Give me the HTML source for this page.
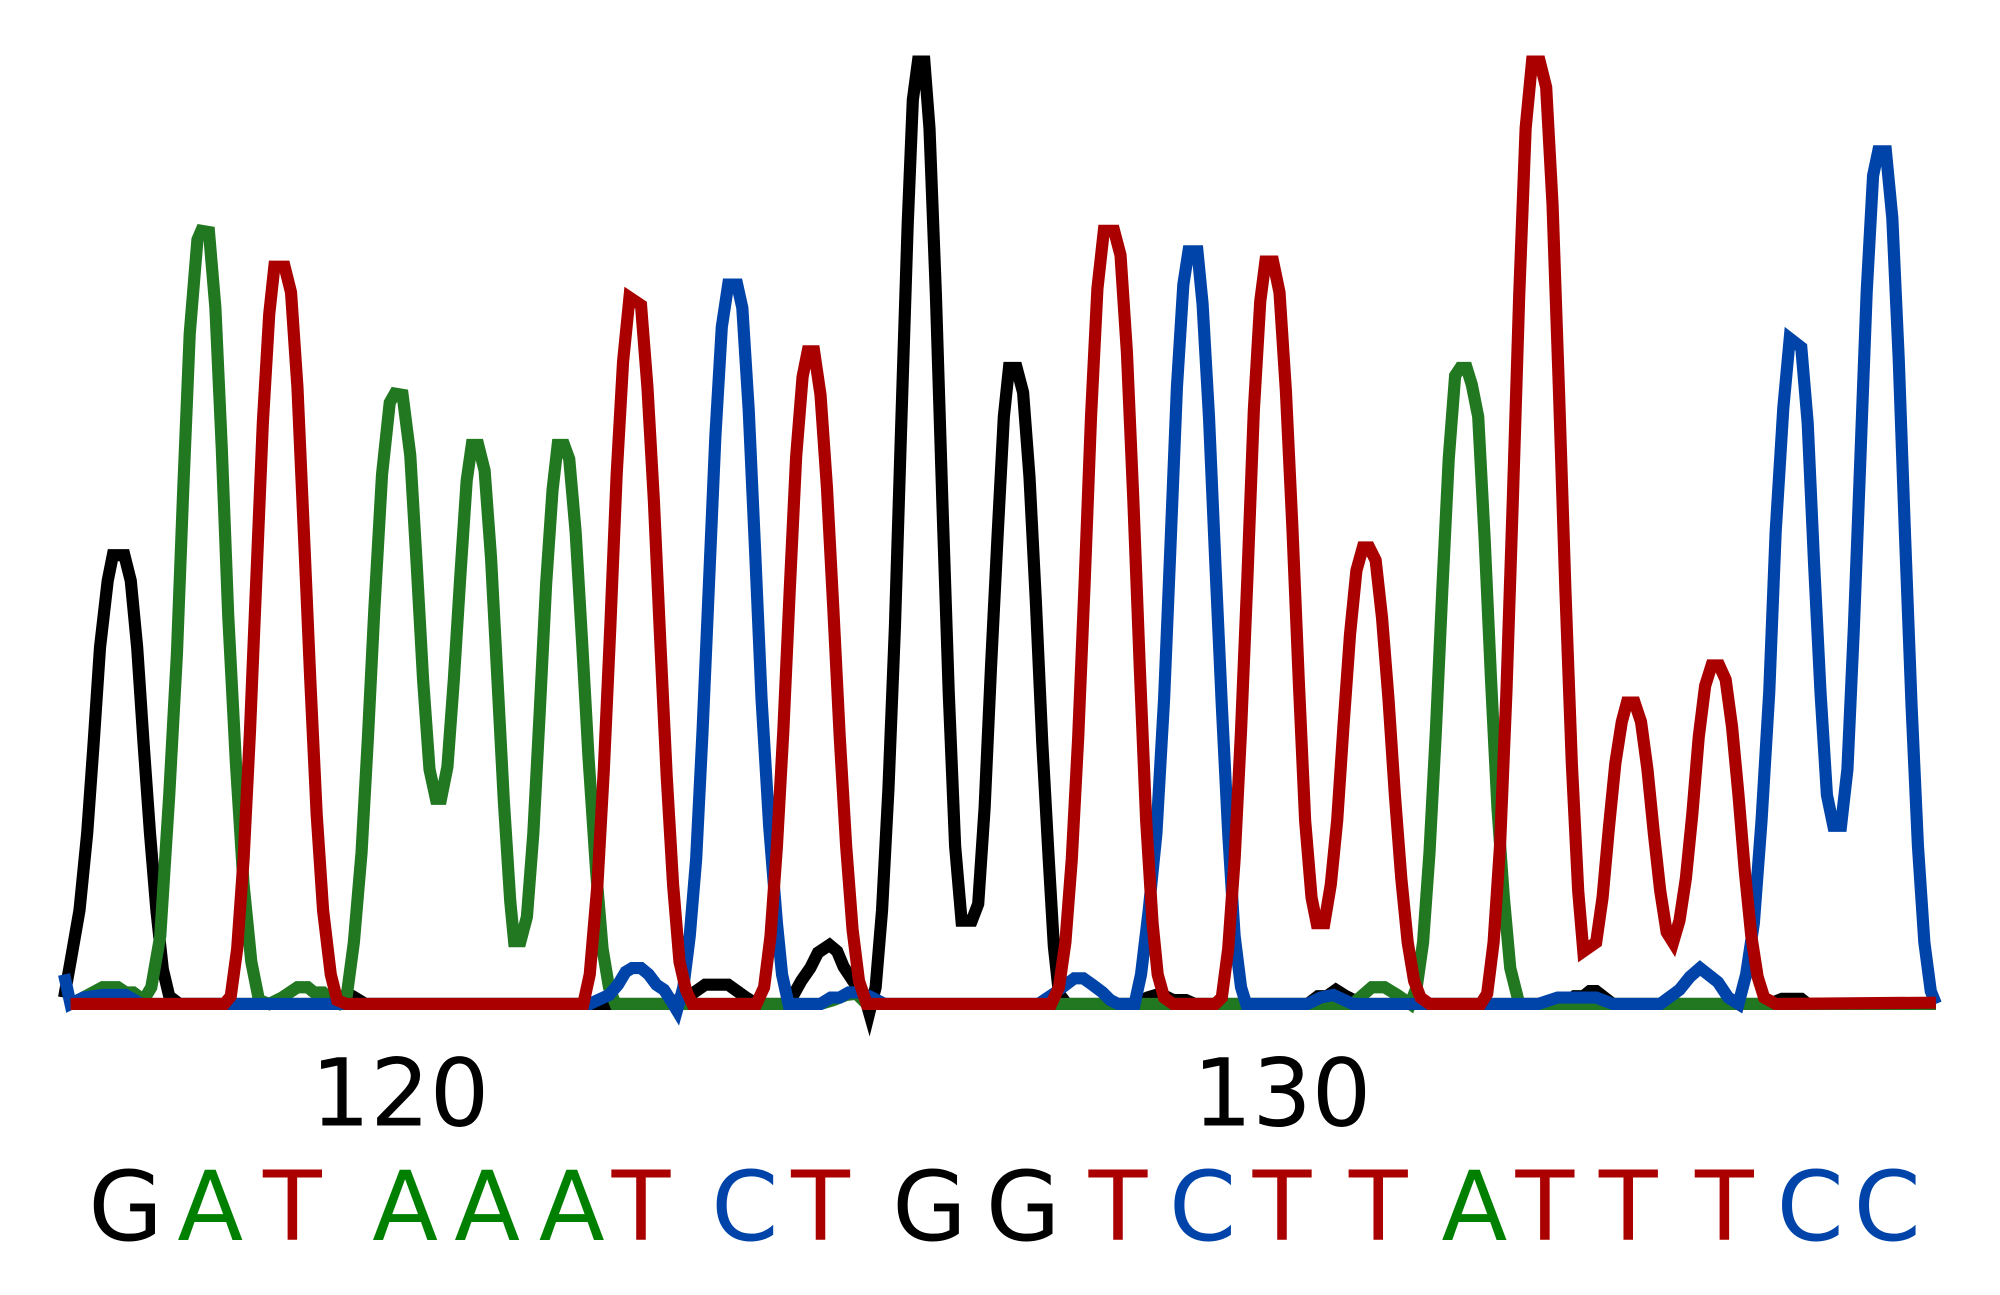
<!DOCTYPE html>
<html><head><meta charset="utf-8"><style>html,body{margin:0;padding:0;background:#fff}svg{display:block}</style></head>
<body>
<svg width="2000" height="1295" viewBox="0 0 1560 1010" preserveAspectRatio="none" xmlns="http://www.w3.org/2000/svg">
<g fill="none" stroke-width="9.5" stroke-linejoin="miter">
<polyline stroke="#000" points="50,778 55,750 62,710 68,650 73,580 78,505 84,453 88,433 97,433 102,453 107,505 112,580 117,650 122,710 127,756 132,777 140,783 245,783 255,777 275,777 285,783 520,783 528,780 540,775 550,768 568,768 582,778 590,783 615,783 625,765 632,755 638,743 647,737 653,742 658,754 666,766 676,783 678,790 683,770 688,710 693,615 698,490 703,330 708,175 712,78 716,48 721,48 725,100 730,230 735,390 740,540 745,660 750,718 758,718 763,705 768,630 773,520 778,420 783,325 787,287 793,287 798,306 803,372 808,470 813,580 818,670 822,738 826,775 832,783 885,783 895,778 905,775 915,780 925,780 932,783 1020,783 1028,777 1035,777 1042,772 1050,777 1062,783 1220,783 1228,777 1235,777 1240,773 1245,773 1258,783 1380,783 1390,779 1405,779 1410,783 1510,783"/>
<polyline stroke="#217821" points="55,783 65,778 80,770 92,770 98,774 104,774 112,780 118,770 125,730 132,620 138,510 143,380 148,260 154,187 157,180 163,181 168,240 173,350 178,480 184,595 190,690 196,750 202,780 210,783 220,778 232,770 240,770 245,774 252,774 258,780 265,783 270,780 276,735 282,665 287,575 292,475 298,370 304,314 308,307 314,308 320,355 325,440 330,530 335,600 340,623 344,623 349,598 354,530 359,450 364,375 368,347 373,347 378,367 383,435 388,530 393,625 398,703 401,734 406,734 411,715 416,650 421,555 426,455 431,382 435,347 440,347 444,358 449,415 454,500 459,590 465,680 470,740 475,770 480,783 640,783 650,780 660,776 668,775 676,783 1055,783 1070,770 1080,770 1090,776 1100,783 1105,770 1110,735 1115,665 1120,570 1125,460 1130,358 1135,293 1139,287 1144,287 1148,300 1153,325 1158,420 1163,530 1168,630 1173,700 1178,755 1185,783 1510,783"/>
<polyline stroke="#0044aa" points="50,760 55,783 65,778 80,776 98,776 110,783 460,783 475,776 482,768 488,758 493,755 500,755 506,760 512,768 518,772 525,783 528,788 533,770 538,730 543,670 548,570 553,455 558,340 563,255 568,222 575,222 579,240 584,320 589,430 594,545 600,645 606,720 610,760 615,783 640,783 648,778 655,778 662,774 670,774 678,777 690,783 810,783 822,775 830,769 838,763 845,763 852,768 860,774 866,780 872,783 885,783 890,760 896,710 902,650 908,545 913,425 918,302 923,222 927,196 934,196 938,237 943,325 948,440 953,550 958,650 963,730 968,770 972,783 1020,783 1030,778 1040,776 1055,783 1200,783 1215,778 1245,778 1258,783 1295,783 1310,772 1318,762 1326,755 1340,766 1348,778 1356,783 1362,760 1368,720 1374,640 1380,540 1385,415 1391,318 1396,264 1405,271 1410,330 1415,440 1420,540 1425,620 1430,644 1436,644 1441,600 1446,490 1451,360 1456,228 1461,137 1465,118 1471,118 1476,170 1481,280 1486,420 1491,550 1496,660 1501,735 1506,773 1510,783"/>
<polyline stroke="#aa0000" points="55,783 175,783 180,777 185,740 190,670 195,570 200,450 205,330 210,245 214,208 222,208 227,228 232,302 237,415 242,530 247,635 252,710 258,760 263,780 270,783 455,783 460,760 466,690 471,600 476,490 481,370 486,282 491,232 500,238 505,302 510,390 515,500 520,605 525,690 530,750 535,772 540,783 590,783 596,770 601,730 606,660 611,570 616,460 621,356 626,294 630,274 635,274 640,308 645,380 650,475 655,575 660,660 665,725 670,765 676,783 820,783 826,770 831,735 836,670 841,575 846,455 851,325 856,225 861,180 869,180 874,199 879,275 884,390 889,520 894,640 899,720 903,760 908,778 915,783 948,783 953,778 958,740 963,670 968,570 973,450 978,320 983,235 987,204 993,204 998,228 1003,305 1008,410 1013,530 1018,640 1023,700 1027,720 1033,720 1038,690 1043,640 1048,565 1053,495 1058,445 1063,427 1068,427 1073,437 1078,482 1083,545 1088,620 1093,685 1098,735 1103,765 1108,778 1115,783 1155,783 1160,775 1165,735 1170,660 1175,540 1180,390 1185,230 1190,100 1195,48 1201,48 1206,68 1211,160 1216,305 1221,460 1226,595 1231,695 1235,742 1245,735 1250,700 1255,645 1260,595 1265,563 1269,548 1275,548 1280,563 1285,600 1290,650 1295,695 1300,727 1305,735 1310,718 1315,685 1320,635 1325,575 1330,535 1335,519 1341,519 1346,530 1351,567 1356,620 1361,680 1366,730 1371,762 1376,778 1385,783 1510,782"/>
</g>
<g font-family="DejaVu Sans, Liberation Sans, sans-serif" text-anchor="middle">
<text x="312" y="878" font-size="73" fill="#000">120</text>
<text x="1000" y="878" font-size="73" fill="#000">130</text>
<g font-size="75">
<text x="98" y="967" fill="#000">G</text>
<text x="164" y="967" fill="#008000">A</text>
<text x="228" y="967" fill="#aa0000">T</text>
<text x="316" y="967" fill="#008000">A</text>
<text x="380" y="967" fill="#008000">A</text>
<text x="446" y="967" fill="#008000">A</text>
<text x="500" y="967" fill="#aa0000">T</text>
<text x="581" y="967" fill="#0044aa">C</text>
<text x="640" y="967" fill="#aa0000">T</text>
<text x="725" y="967" fill="#000">G</text>
<text x="798" y="967" fill="#000">G</text>
<text x="872" y="967" fill="#aa0000">T</text>
<text x="938" y="967" fill="#0044aa">C</text>
<text x="1000" y="967" fill="#aa0000">T</text>
<text x="1075" y="967" fill="#aa0000">T</text>
<text x="1150" y="967" fill="#008000">A</text>
<text x="1205" y="967" fill="#aa0000">T</text>
<text x="1270" y="967" fill="#aa0000">T</text>
<text x="1345" y="967" fill="#aa0000">T</text>
<text x="1412" y="967" fill="#0044aa">C</text>
<text x="1472" y="967" fill="#0044aa">C</text>
</g>
</g>
</svg>
</body></html>
